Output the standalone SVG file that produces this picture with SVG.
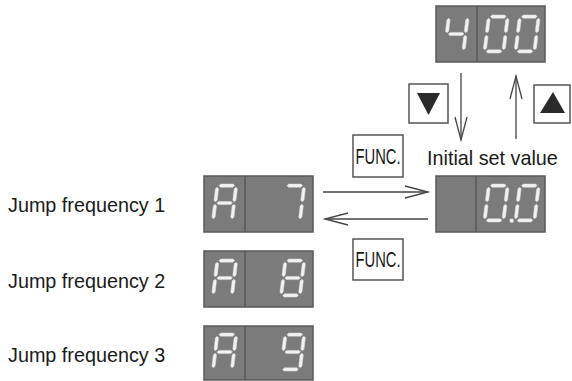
<svg xmlns="http://www.w3.org/2000/svg" xmlns:xlink="http://www.w3.org/1999/xlink" width="572" height="381" viewBox="0 0 572 381">
<style>
.disp{fill:#7b7b7b;stroke:#5a5a5a;stroke-width:1.5}
.div{stroke:#505050;stroke-width:1.2}
.seg{fill:#f2f2f2;stroke:#dcdcdc;stroke-width:0.5}
.lbl{font-family:"Liberation Sans",Arial,Helvetica,sans-serif;font-size:19.8px;fill:#1a1a1a}
.key{fill:#fff;stroke:#555;stroke-width:1.5}
.keytxt{font-family:"Liberation Sans",Arial,Helvetica,sans-serif;font-size:22px;fill:#1a1a1a}
.tri{fill:#2a2a2a}
.conn{stroke:#444;stroke-width:1.3;fill:none}
</style>
<defs>
<polygon id="sa" class="seg" points="3.2,1.6 4.8,0 17.2,0 18.8,1.6 17.2,3.2 4.8,3.2"/>
<polygon id="sg" class="seg" points="3.2,19 4.8,17.4 17.2,17.4 18.8,19 17.2,20.6 4.8,20.6"/>
<polygon id="sd" class="seg" points="3.2,36.4 4.8,34.8 17.2,34.8 18.8,36.4 17.2,38 4.8,38"/>
<polygon id="sf" class="seg" points="1.6,3.2 3.2,4.8 3.2,16.2 1.6,17.8 0,16.2 0,4.8"/>
<polygon id="se" class="seg" points="1.6,20.2 3.2,21.8 3.2,33.2 1.6,34.8 0,33.2 0,21.8"/>
<polygon id="sb" class="seg" points="20.4,3.2 22,4.8 22,16.2 20.4,17.8 18.8,16.2 18.8,4.8"/>
<polygon id="sc" class="seg" points="20.4,20.2 22,21.8 22,33.2 20.4,34.8 18.8,33.2 18.8,21.8"/>
<g id="d0"><use href="#sa"/><use href="#sb"/><use href="#sc"/><use href="#sd"/><use href="#se"/><use href="#sf"/></g>
<g id="d4"><use href="#sf"/><use href="#sg"/><use href="#sb"/><use href="#sc"/></g>
<g id="d7"><use href="#sa"/><use href="#sb"/><use href="#sc"/></g>
<g id="d8"><use href="#sa"/><use href="#sb"/><use href="#sc"/><use href="#sd"/><use href="#se"/><use href="#sf"/><use href="#sg"/></g>
<g id="d9"><use href="#sa"/><use href="#sb"/><use href="#sc"/><use href="#sd"/><use href="#sf"/><use href="#sg"/></g>
<g id="dA"><use href="#sa"/><use href="#sb"/><use href="#sc"/><use href="#se"/><use href="#sf"/><use href="#sg"/></g>
<marker id="open" markerUnits="userSpaceOnUse" markerWidth="30" markerHeight="20" viewBox="-25 -10 30 20" refX="0" refY="0" orient="auto">
<path d="M -23 -6 L 0 0 L -23 6" fill="none" stroke="#444" stroke-width="1.3"/>
</marker>
</defs>

<g id="display-400" aria-label="4 00">
<rect class="disp" x="436" y="6" width="109" height="56"/>
<line class="div" x1="477" y1="6" x2="477" y2="62"/>
<use href="#d4" transform="translate(447.5,15) skewX(-7)"/>
<use href="#d0" transform="translate(487.5,15) skewX(-7)"/>
<use href="#d0" transform="translate(518.5,15) skewX(-7)"/>
</g>

<g id="display-initial" aria-label="0.0">
<rect class="disp" x="436" y="176" width="109" height="56"/>
<line class="div" x1="476" y1="176" x2="476" y2="232"/>
<use href="#d0" transform="translate(487.5,184) skewX(-7)"/>
<rect class="seg" x="510" y="219" width="3.2" height="3.2"/>
<use href="#d0" transform="translate(518.5,184) skewX(-7)"/>
</g>

<g id="display-A7" aria-label="A 7">
<rect class="disp" x="204" y="176" width="109" height="56"/>
<line class="div" x1="245" y1="176" x2="245" y2="232"/>
<use href="#dA" transform="translate(216,184) skewX(-7)"/>
<use href="#d7" transform="translate(284,184) skewX(-7)"/>
</g>

<g id="display-A8" aria-label="A 8">
<rect class="disp" x="204" y="251" width="109" height="56"/>
<line class="div" x1="245" y1="251" x2="245" y2="307"/>
<use href="#dA" transform="translate(216,259) skewX(-7)"/>
<use href="#d8" transform="translate(284,259) skewX(-7)"/>
</g>

<g id="display-A9" aria-label="A 9">
<rect class="disp" x="204" y="326" width="109" height="54"/>
<line class="div" x1="245" y1="326" x2="245" y2="380"/>
<use href="#dA" transform="translate(216,333) skewX(-7)"/>
<use href="#d9" transform="translate(284,333) skewX(-7)"/>
</g>

<g id="key-down">
<rect class="key" x="409" y="84" width="39" height="39"/>
<polygon class="tri" points="417,93 440,93 428.5,115"/>
</g>

<g id="key-up">
<rect class="key" x="534" y="85" width="36" height="38"/>
<polygon class="tri" points="553,92 565,113 540,113"/>
</g>

<g id="key-func-1">
<rect class="key" x="353" y="135" width="50" height="42"/>
<text class="keytxt" x="378" y="164" text-anchor="middle" textLength="45" lengthAdjust="spacingAndGlyphs">FUNC.</text>
</g>

<g id="key-func-2">
<rect class="key" x="353" y="239" width="50" height="41"/>
<text class="keytxt" x="378" y="267" text-anchor="middle" textLength="45" lengthAdjust="spacingAndGlyphs">FUNC.</text>
</g>

<g id="label-initial">
<text class="lbl" x="427" y="165">Initial set value</text>
</g>

<g id="label-jump1"><text class="lbl" x="8" y="212">Jump frequency 1</text></g>
<g id="label-jump2"><text class="lbl" x="8" y="288">Jump frequency 2</text></g>
<g id="label-jump3"><text class="lbl" x="8" y="362">Jump frequency 3</text></g>

<g id="connectors">
<line class="conn" x1="461" y1="73" x2="461" y2="140" marker-end="url(#open)"/>
<line class="conn" x1="516" y1="139" x2="516" y2="76" marker-end="url(#open)"/>
<line class="conn" x1="323" y1="192" x2="428" y2="192" marker-end="url(#open)"/>
<line class="conn" x1="428" y1="219" x2="325" y2="219" marker-end="url(#open)"/>
</g>
</svg>
